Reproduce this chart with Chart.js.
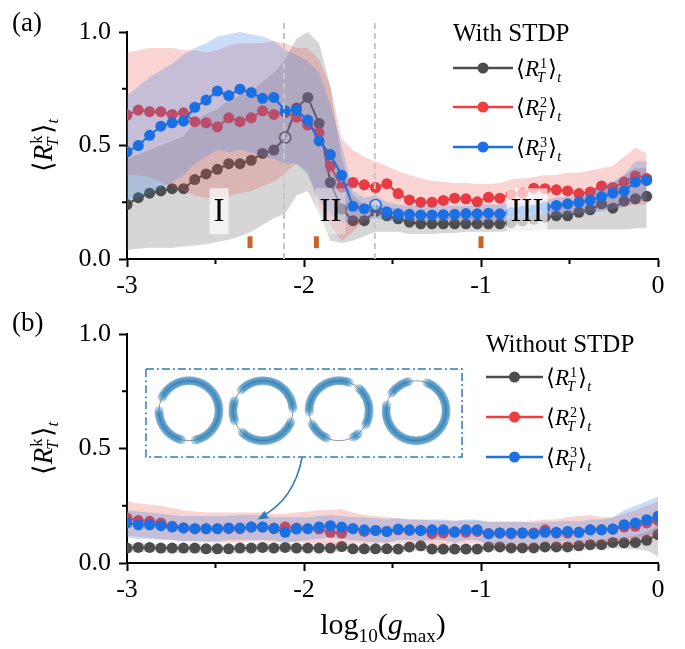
<!DOCTYPE html>
<html lang="en">
<head>
  <meta charset="UTF-8">
  <title>R_T^k vs log10(gmax)</title>
  <script src="https://cdn.jsdelivr.net/npm/chart.js@4"></script>
  <style>
    body { margin: 0; background: #fff; }
    .panel { position: absolute; left: 0; width: 685px; }
    #panelA { top: 0; height: 300px; }
    #panelB { top: 300px; height: 349px; }
  </style>
</head>
<body>
  <div class="panel" id="panelA"><canvas id="chartA" width="685" height="300"></canvas></div>
  <div class="panel" id="panelB"><canvas id="chartB" width="685" height="349"></canvas></div>

  <script>
    const serif = "'Liberation Serif', 'Times New Roman', serif";

    // sampling grid of log10(gmax): equal steps from -3 to 0
    const step = 3 / 47;
    const xA = Array.from({ length: 47 }, (_, i) => -3 + i * step);
    const xB = Array.from({ length: 48 }, (_, i) => -3 + i * step);

    // ---- panel (a): with STDP ----
    const blackA = [0.24, 0.27, 0.29, 0.30, 0.31, 0.31, 0.35, 0.375, 0.395, 0.42, 0.42, 0.435, 0.465, 0.48, 0.535, 0.665,
      0.712, 0.597, 0.337, 0.22, 0.169, 0.169, 0.21, 0.19, 0.177, 0.162, 0.155, 0.155, 0.155, 0.155, 0.155, 0.155,
      0.155, 0.155, 0.16, 0.168, 0.175, 0.184, 0.19, 0.19, 0.206, 0.217, 0.243, 0.224, 0.255, 0.265, 0.276];
    const redA = [0.634, 0.656, 0.649, 0.649, 0.637, 0.644, 0.605, 0.60, 0.582, 0.622, 0.605, 0.622, 0.653, 0.637, 0.645, 0.625,
      0.59, 0.556, 0.41, 0.317, 0.337, 0.327, 0.315, 0.332, 0.288, 0.26, 0.25, 0.25, 0.258, 0.268, 0.265, 0.252,
      0.272, 0.268, 0.285, 0.29, 0.312, 0.31, 0.305, 0.30, 0.288, 0.295, 0.322, 0.315, 0.339, 0.366, 0.355];
    const blueA = [0.472, 0.50, 0.545, 0.585, 0.60, 0.607, 0.668, 0.70, 0.74, 0.72, 0.748, 0.733, 0.708, 0.712, 0.653, 0.655,
      0.612, 0.52, 0.46, 0.369, 0.232, 0.221, 0.238, 0.208, 0.199, 0.197, 0.194, 0.194, 0.195, 0.197, 0.2, 0.199,
      0.202, 0.199, 0.205, 0.21, 0.215, 0.228, 0.236, 0.243, 0.25, 0.258, 0.275, 0.29, 0.299, 0.339, 0.346];

    const grayHiA = [0.44, 0.46, 0.48, 0.50, 0.52, 0.54, 0.60, 0.64, 0.66, 0.70, 0.72, 0.74, 0.78, 0.82, 0.88, 0.97,
      1.0, 0.95, 0.76, 0.44, 0.28, 0.24, 0.25, 0.23, 0.22, 0.21, 0.2, 0.2, 0.2, 0.2, 0.2, 0.2,
      0.2, 0.2, 0.21, 0.22, 0.22, 0.23, 0.24, 0.25, 0.27, 0.30, 0.33, 0.33, 0.37, 0.40, 0.40];
    const grayLoA = [0.04, 0.045, 0.05, 0.05, 0.05, 0.055, 0.06, 0.065, 0.075, 0.085, 0.10, 0.12, 0.15, 0.18, 0.20, 0.28,
      0.30, 0.20, 0.08, 0.07, 0.08, 0.10, 0.12, 0.12, 0.12, 0.11, 0.11, 0.11, 0.115, 0.115, 0.12, 0.12,
      0.12, 0.12, 0.125, 0.125, 0.125, 0.13, 0.13, 0.13, 0.13, 0.13, 0.13, 0.13, 0.13, 0.135, 0.135];
    const redHiA = [0.91, 0.92, 0.93, 0.93, 0.93, 0.92, 0.92, 0.91, 0.92, 0.94, 0.95, 0.95, 0.95, 0.96, 0.95, 0.93,
      0.93, 0.88, 0.76, 0.53, 0.48, 0.45, 0.43, 0.41, 0.385, 0.37, 0.355, 0.345, 0.34, 0.335, 0.335, 0.33,
      0.33, 0.335, 0.35, 0.355, 0.36, 0.37, 0.37, 0.38, 0.38, 0.39, 0.40, 0.41, 0.45, 0.49, 0.465];
    const redLoA = [0.37, 0.37, 0.36, 0.34, 0.32, 0.30, 0.28, 0.27, 0.27, 0.28, 0.29, 0.30, 0.32, 0.34, 0.38, 0.42,
      0.39, 0.23, 0.15, 0.08, 0.12, 0.17, 0.19, 0.2, 0.19, 0.17, 0.17, 0.17, 0.17, 0.17, 0.17, 0.17,
      0.17, 0.17, 0.18, 0.19, 0.2, 0.2, 0.2, 0.2, 0.2, 0.21, 0.22, 0.22, 0.23, 0.24, 0.24];
    const blueHiA = [0.72, 0.76, 0.80, 0.83, 0.86, 0.90, 0.93, 0.95, 0.98, 0.99, 1.0, 0.99, 0.98, 0.96, 0.92, 0.90,
      0.87, 0.82, 0.68, 0.50, 0.30, 0.27, 0.28, 0.25, 0.24, 0.235, 0.235, 0.235, 0.235, 0.235, 0.235, 0.235,
      0.24, 0.24, 0.245, 0.25, 0.255, 0.26, 0.27, 0.275, 0.28, 0.30, 0.32, 0.34, 0.37, 0.43, 0.43];
    const blueLoA = [0.26, 0.27, 0.29, 0.31, 0.34, 0.37, 0.42, 0.45, 0.48, 0.47, 0.48, 0.47, 0.45, 0.44, 0.42, 0.42,
      0.37, 0.26, 0.20, 0.16, 0.17, 0.17, 0.18, 0.17, 0.165, 0.165, 0.165, 0.165, 0.165, 0.165, 0.165, 0.165,
      0.165, 0.165, 0.17, 0.175, 0.18, 0.185, 0.19, 0.195, 0.2, 0.2, 0.21, 0.22, 0.23, 0.25, 0.26];

    // ---- panel (b): without STDP ----
    const blackB = [0.065, 0.068, 0.068, 0.065, 0.065, 0.065, 0.065, 0.062, 0.062, 0.062, 0.065, 0.065, 0.068, 0.065, 0.068, 0.065,
      0.065, 0.065, 0.065, 0.072, 0.062, 0.062, 0.062, 0.062, 0.061, 0.07, 0.075, 0.061, 0.061, 0.061, 0.061, 0.061,
      0.07, 0.07, 0.066, 0.066, 0.066, 0.07, 0.07, 0.07, 0.075, 0.08, 0.08, 0.09, 0.088, 0.09, 0.099, 0.124];
    const redB = [0.196, 0.186, 0.182, 0.175, 0.16, 0.153, 0.15, 0.15, 0.15, 0.15, 0.15, 0.157, 0.157, 0.153, 0.157, 0.153,
      0.15, 0.148, 0.134, 0.131, 0.15, 0.138, 0.142, 0.138, 0.145, 0.142, 0.142, 0.128, 0.131, 0.134, 0.134, 0.138,
      0.128, 0.131, 0.128, 0.131, 0.131, 0.145, 0.131, 0.131, 0.134, 0.145, 0.145, 0.148, 0.157, 0.16, 0.175, 0.186];
    const blueB = [0.175, 0.167, 0.167, 0.163, 0.157, 0.153, 0.15, 0.15, 0.15, 0.153, 0.153, 0.157, 0.157, 0.15, 0.134, 0.148,
      0.15, 0.157, 0.163, 0.157, 0.15, 0.145, 0.142, 0.138, 0.148, 0.145, 0.142, 0.145, 0.145, 0.136, 0.145, 0.145,
      0.128, 0.131, 0.131, 0.131, 0.128, 0.134, 0.134, 0.138, 0.134, 0.145, 0.145, 0.148, 0.167, 0.175, 0.189, 0.204];

    const grayHiB = [0.08, 0.085, 0.085, 0.08, 0.08, 0.08, 0.08, 0.078, 0.078, 0.078, 0.08, 0.082, 0.085, 0.082, 0.085, 0.082,
      0.082, 0.08, 0.082, 0.09, 0.08, 0.078, 0.078, 0.078, 0.078, 0.085, 0.09, 0.078, 0.078, 0.078, 0.078, 0.078,
      0.086, 0.086, 0.084, 0.084, 0.084, 0.088, 0.09, 0.09, 0.095, 0.10, 0.10, 0.11, 0.11, 0.12, 0.135, 0.165];
    const grayLoB = [0.045, 0.048, 0.048, 0.045, 0.045, 0.045, 0.045, 0.043, 0.043, 0.043, 0.045, 0.046, 0.048, 0.046, 0.05, 0.047,
      0.047, 0.047, 0.047, 0.052, 0.044, 0.044, 0.044, 0.044, 0.044, 0.052, 0.056, 0.044, 0.044, 0.044, 0.044, 0.044,
      0.052, 0.052, 0.05, 0.05, 0.05, 0.052, 0.052, 0.05, 0.055, 0.06, 0.058, 0.065, 0.062, 0.06, 0.055, 0.03];
    const redHiB = [0.27, 0.26, 0.255, 0.25, 0.24, 0.23, 0.225, 0.22, 0.22, 0.22, 0.22, 0.22, 0.22, 0.215, 0.215, 0.22,
      0.225, 0.23, 0.23, 0.235, 0.22, 0.21, 0.205, 0.2, 0.195, 0.19, 0.19, 0.185, 0.185, 0.185, 0.185, 0.185,
      0.18, 0.18, 0.18, 0.18, 0.185, 0.19, 0.19, 0.2, 0.205, 0.21, 0.2, 0.2, 0.215, 0.23, 0.25, 0.27];
    const redLoB = [0.12, 0.115, 0.11, 0.105, 0.1, 0.095, 0.095, 0.09, 0.09, 0.09, 0.09, 0.095, 0.095, 0.09, 0.095, 0.09,
      0.09, 0.085, 0.08, 0.08, 0.09, 0.085, 0.085, 0.085, 0.09, 0.09, 0.09, 0.08, 0.08, 0.085, 0.085, 0.09,
      0.08, 0.08, 0.08, 0.08, 0.08, 0.09, 0.08, 0.08, 0.08, 0.085, 0.09, 0.09, 0.1, 0.1, 0.11, 0.11];
    const blueHiB = [0.23, 0.225, 0.22, 0.215, 0.21, 0.205, 0.205, 0.205, 0.205, 0.205, 0.21, 0.21, 0.21, 0.2, 0.2, 0.2,
      0.2, 0.205, 0.21, 0.205, 0.2, 0.2, 0.195, 0.19, 0.195, 0.19, 0.19, 0.19, 0.19, 0.185, 0.19, 0.19,
      0.18, 0.18, 0.18, 0.18, 0.175, 0.18, 0.18, 0.185, 0.18, 0.19, 0.19, 0.2, 0.23, 0.25, 0.27, 0.29];
    const blueLoB = [0.11, 0.105, 0.105, 0.1, 0.1, 0.095, 0.095, 0.095, 0.095, 0.1, 0.1, 0.1, 0.1, 0.1, 0.085, 0.095,
      0.1, 0.105, 0.11, 0.105, 0.1, 0.095, 0.09, 0.09, 0.1, 0.1, 0.095, 0.1, 0.1, 0.09, 0.1, 0.1,
      0.08, 0.085, 0.085, 0.085, 0.085, 0.09, 0.09, 0.095, 0.09, 0.1, 0.1, 0.1, 0.11, 0.11, 0.12, 0.13];

    // annotations in panel (a)
    const dashX = [-2.113, -1.6];
    const markX = [-2.305, -1.93, -1.0];
    const regionText = ['I', 'II', 'III'];
    const regionX = [-2.48, -1.85, -0.74];
    const hollowBlackA = 14, hollowBlueA = 22;

    const colBlack = '#4d4d4d', colRed = '#e8363f', colBlue = '#1a6fe3';
    const bandGray = 'rgba(120,120,120,0.30)';
    const bandRed = 'rgba(235,70,70,0.24)';
    const bandBlue = 'rgba(60,130,220,0.27)';

    function lineSet(xs, ys, color, order, hollow) {
      return {
        data: xs.map((x, i) => ({ x, y: ys[i] })),
        borderColor: color,
        borderWidth: 2,
        pointRadius: 5.5,
        pointHoverRadius: 5.5,
        pointBackgroundColor: c => c.dataIndex === hollow ? 'rgba(255,255,255,0.45)' : color,
        pointBorderColor: color,
        pointBorderWidth: c => c.dataIndex === hollow ? 1.6 : 0,
        fill: false,
        order
      };
    }

    function bandSets(xs, hi, lo, color, order) {
      return [
        { data: xs.map((x, i) => ({ x, y: hi[i] })), borderWidth: 0, pointRadius: 0, backgroundColor: color, fill: '+1', order },
        { data: xs.map((x, i) => ({ x, y: lo[i] })), borderWidth: 0, pointRadius: 0, fill: false, order }
      ];
    }

    // <R_T^k>_t with stacked super/subscript
    function drawRk(ctx, x, y, sup, size, dry) {
      const s = size * 0.62;
      let cx = x;
      const put = (t, font, dx, dy) => {
        ctx.font = font;
        if (!dry) ctx.fillText(t, cx + dx, y + dy);
        return ctx.measureText(t).width;
      };
      cx += put('\u27E8', size + 'px ' + serif, 0, 0);
      cx += put('R', 'italic ' + size + 'px ' + serif, 0, 0);
      const w1 = put(sup, s + 'px ' + serif, 1, -size * 0.36);
      const w2 = put('T', 'italic ' + s + 'px ' + serif, -2, size * 0.24);
      cx += Math.max(w1 + 1, w2 - 2) + 1;
      cx += put('\u27E9', size + 'px ' + serif, 0, 0);
      cx += put('t', 'italic ' + s + 'px ' + serif, 0, size * 0.24);
      return cx - x;
    }

    function drawYLabel(chart) {
      const { ctx, chartArea } = chart;
      const size = 27;
      ctx.save();
      ctx.fillStyle = '#000';
      ctx.textBaseline = 'alphabetic';
      ctx.textAlign = 'left';
      const w = drawRk(ctx, 0, 0, 'k', size, true);
      ctx.translate(chartArea.left - 84, (chartArea.top + chartArea.bottom) / 2);
      ctx.rotate(-Math.PI / 2);
      drawRk(ctx, -w / 2, size * 0.33, 'k', size, false);
      ctx.restore();
    }

    function drawLegend(ctx, title, tx, ty, lx0, lx1, rowsY) {
      const cols = [colBlack, '#ef3d42', '#1f6fe5'];
      ctx.save();
      ctx.fillStyle = '#000';
      ctx.textAlign = 'left';
      ctx.textBaseline = 'alphabetic';
      ctx.font = '25px ' + serif;
      ctx.fillText(title, tx, ty);
      rowsY.forEach((ry, i) => {
        ctx.strokeStyle = cols[i];
        ctx.lineWidth = 2.5;
        ctx.beginPath(); ctx.moveTo(lx0, ry); ctx.lineTo(lx1, ry); ctx.stroke();
        ctx.fillStyle = cols[i];
        ctx.beginPath(); ctx.arc((lx0 + lx1) / 2, ry, 5.5, 0, Math.PI * 2); ctx.fill();
        ctx.fillStyle = '#000';
        drawRk(ctx, lx1 + 3, ry + 8, String(i + 1), 23, false);
      });
      ctx.restore();
    }

    function drawMinorTicks(chart, xs, ys) {
      const { ctx, scales: { x, y } } = chart;
      ctx.save();
      ctx.strokeStyle = '#000';
      ctx.lineWidth = 2;
      const yb = y.getPixelForValue(0), xl = x.getPixelForValue(-3);
      xs.forEach(v => { const p = x.getPixelForValue(v); ctx.beginPath(); ctx.moveTo(p, yb); ctx.lineTo(p, yb + 5); ctx.stroke(); });
      ys.forEach(v => { const p = y.getPixelForValue(v); ctx.beginPath(); ctx.moveTo(xl, p); ctx.lineTo(xl - 5, p); ctx.stroke(); });
      ctx.restore();
    }

    function panelLetter(ctx, t) {
      ctx.save();
      ctx.fillStyle = '#000';
      ctx.font = '27px ' + serif;
      ctx.textAlign = 'left';
      ctx.textBaseline = 'alphabetic';
      ctx.fillText(t, 12, 31);
      ctx.restore();
    }

    const decorA = {
      id: 'decorA',
      afterDatasetsDraw(chart) {
        const { ctx, chartArea, scales: { x, y } } = chart;
        ctx.save();
        // dashed boundaries between regimes
        ctx.strokeStyle = '#c6c6c6';
        ctx.lineWidth = 2;
        ctx.setLineDash([6, 4]);
        dashX.forEach(v => {
          const px = x.getPixelForValue(v);
          ctx.beginPath(); ctx.moveTo(px, y.getPixelForValue(0)); ctx.lineTo(px, chartArea.top - 12); ctx.stroke();
        });
        ctx.setLineDash([]);
        // orange tick marks
        ctx.fillStyle = '#c8642a';
        markX.forEach(v => {
          const px = x.getPixelForValue(v);
          const y0 = y.getPixelForValue(0.1), y1 = y.getPixelForValue(0.048);
          ctx.fillRect(px - 2.5, y0, 5, y1 - y0);
        });
        // region labels
        ctx.font = '33px ' + serif;
        ctx.textAlign = 'center';
        ctx.textBaseline = 'middle';
        regionText.forEach((t, i) => {
          const px = x.getPixelForValue(regionX[i]), py = y.getPixelForValue(0.21);
          const w = ctx.measureText(t).width + 8;
          ctx.fillStyle = i === 1 ? 'rgba(255,255,255,0.35)' : 'rgba(255,255,255,0.68)';
          ctx.fillRect(px - w / 2, py - 23, w, 46);
          ctx.fillStyle = '#000';
          ctx.fillText(t, px, py + 1);
        });
        ctx.restore();
      },
      afterDraw(chart) {
        const ctx = chart.ctx;
        drawMinorTicks(chart, [-2.5, -1.5, -0.5], [0.25, 0.75]);
        drawYLabel(chart);
        drawLegend(ctx, 'With STDP', 453, 41, 453, 513, [68, 107, 147]);
        panelLetter(ctx, '(a)');
      }
    };

    // inset of ring snapshots in panel (b)
    const insetBox = { x0: -2.893, x1: -1.107, y0: 0.463, y1: 0.847 };
    const ringX = [-2.65, -2.232, -1.802, -1.367];
    const ringY = 0.665;
    const ringArcs = [
      [[206, 440], [104, 182]],
      [[22, 136], [160, 202], [224, 356]],
      [[114, 157], [178, 291], [312, 389], [50, 64]],
      [[291, 554], [216, 256]]
    ];

    const decorB = {
      id: 'decorB',
      afterDatasetsDraw(chart) {
        const { ctx, scales: { x, y } } = chart;
        ctx.save();
        // dash-dot frame
        const bx0 = x.getPixelForValue(insetBox.x0), bx1 = x.getPixelForValue(insetBox.x1);
        const by0 = y.getPixelForValue(insetBox.y1), by1 = y.getPixelForValue(insetBox.y0);
        ctx.strokeStyle = '#2c7bbf';
        ctx.lineWidth = 1.5;
        ctx.setLineDash([8, 3, 2, 3]);
        ctx.strokeRect(bx0, by0, bx1 - bx0, by1 - by0);
        ctx.setLineDash([]);
        // rings
        const R = 30;
        ringX.forEach((rx, k) => {
          const cx = x.getPixelForValue(rx), cy = y.getPixelForValue(ringY);
          ctx.strokeStyle = 'rgba(110,110,110,0.7)';
          ctx.lineWidth = 1;
          ctx.beginPath(); ctx.arc(cx, cy, R, 0, Math.PI * 2); ctx.stroke();
          ctx.fillStyle = 'rgba(31,119,180,0.30)';
          ringArcs[k].forEach(([a0, a1]) => {
            for (let a = a0; a <= a1; a += 4) {
              const t = a * Math.PI / 180;
              ctx.beginPath(); ctx.arc(cx + R * Math.cos(t), cy + R * Math.sin(t), 4.5, 0, Math.PI * 2); ctx.fill();
            }
          });
        });
        // curved arrow to the curves
        const sx = x.getPixelForValue(-2.011), sy = y.getPixelForValue(0.46);
        const ex = x.getPixelForValue(-2.262), ey = y.getPixelForValue(0.19);
        const qx = sx - 8, qy = ey - 20;
        ctx.strokeStyle = '#2c7bbf';
        ctx.fillStyle = '#2c7bbf';
        ctx.lineWidth = 1.6;
        ctx.beginPath(); ctx.moveTo(sx, sy); ctx.quadraticCurveTo(qx, qy, ex + 4, ey - 3); ctx.stroke();
        const ang = Math.atan2(ey - qy, ex - qx);
        ctx.beginPath();
        ctx.moveTo(ex, ey);
        ctx.lineTo(ex - 11 * Math.cos(ang - 0.4), ey - 11 * Math.sin(ang - 0.4));
        ctx.lineTo(ex - 11 * Math.cos(ang + 0.4), ey - 11 * Math.sin(ang + 0.4));
        ctx.closePath(); ctx.fill();
        ctx.restore();
      },
      afterDraw(chart) {
        const ctx = chart.ctx;
        drawMinorTicks(chart, [-2.5, -1.5, -0.5], [0.25, 0.75]);
        drawYLabel(chart);
        drawLegend(ctx, 'Without STDP', 486, 52, 486, 543, [77, 117, 157]);
        panelLetter(ctx, '(b)');
        // x-axis title log10(gmax)
        const size = 30, s = size * 0.64;
        const parts = [
          ['log', size + 'px ' + serif, 0],
          ['10', s + 'px ' + serif, size * 0.26],
          ['(', size + 'px ' + serif, 0],
          ['g', 'italic ' + size + 'px ' + serif, 0],
          ['max', s + 'px ' + serif, size * 0.26],
          [')', size + 'px ' + serif, 0]
        ];
        ctx.save();
        ctx.fillStyle = '#000';
        ctx.textAlign = 'left';
        ctx.textBaseline = 'alphabetic';
        let total = 0;
        parts.forEach(p => { ctx.font = p[1]; total += ctx.measureText(p[0]).width; });
        let px = 383 - total / 2;
        const base = 334;
        parts.forEach(p => { ctx.font = p[1]; ctx.fillText(p[0], px, base + p[2]); px += ctx.measureText(p[0]).width; });
        ctx.restore();
      }
    };

    function makeOptions(xHeight, pad) {
      return {
        responsive: false,
        animation: false,
        layout: { padding: pad },
        plugins: { legend: { display: false }, tooltip: { enabled: false } },
        scales: {
          x: {
            type: 'linear', min: -3, max: 0,
            afterFit: s => { s.height = xHeight; },
            border: { display: true, color: '#000', width: 2 },
            grid: { display: true, drawOnChartArea: false, drawTicks: true, tickLength: 8, tickWidth: 2, tickColor: '#000' },
            ticks: { stepSize: 1, padding: 4, color: '#000', font: { family: serif, size: 26 }, callback: v => String(v) }
          },
          y: {
            min: 0, max: 1,
            afterFit: s => { s.width = 127; },
            border: { display: true, color: '#000', width: 2 },
            grid: { display: true, drawOnChartArea: false, drawTicks: true, tickLength: 8, tickWidth: 2, tickColor: '#000' },
            ticks: { stepSize: 0.5, padding: 8, color: '#000', font: { family: serif, size: 26 }, callback: v => v.toFixed(1) }
          }
        }
      };
    }

    new Chart(document.getElementById('chartA'), {
      type: 'line',
      data: {
        datasets: [
          lineSet(xA, blueA, colBlue, 0, hollowBlueA),
          ...bandSets(xA, blueHiA, blueLoA, bandBlue, 1),
          ...bandSets(xA, redHiA, redLoA, bandRed, 2),
          lineSet(xA, redA, colRed, 3, -1),
          lineSet(xA, blackA, colBlack, 4, hollowBlackA),
          ...bandSets(xA, grayHiA, grayLoA, bandGray, 5)
        ]
      },
      options: makeOptions(41, { left: 0, right: 27, top: 32, bottom: 0 }),
      plugins: [decorA]
    });

    new Chart(document.getElementById('chartB'), {
      type: 'line',
      data: {
        datasets: [
          lineSet(xB, blueB, colBlue, 0, -1),
          ...bandSets(xB, blueHiB, blueLoB, bandBlue, 1),
          ...bandSets(xB, redHiB, redLoB, bandRed, 2),
          lineSet(xB, redB, colRed, 3, -1),
          lineSet(xB, blackB, colBlack, 4, -1),
          ...bandSets(xB, grayHiB, grayLoB, bandGray, 5)
        ]
      },
      options: makeOptions(86, { left: 0, right: 27, top: 34, bottom: 0 }),
      plugins: [decorB]
    });
  </script>
</body>
</html>
